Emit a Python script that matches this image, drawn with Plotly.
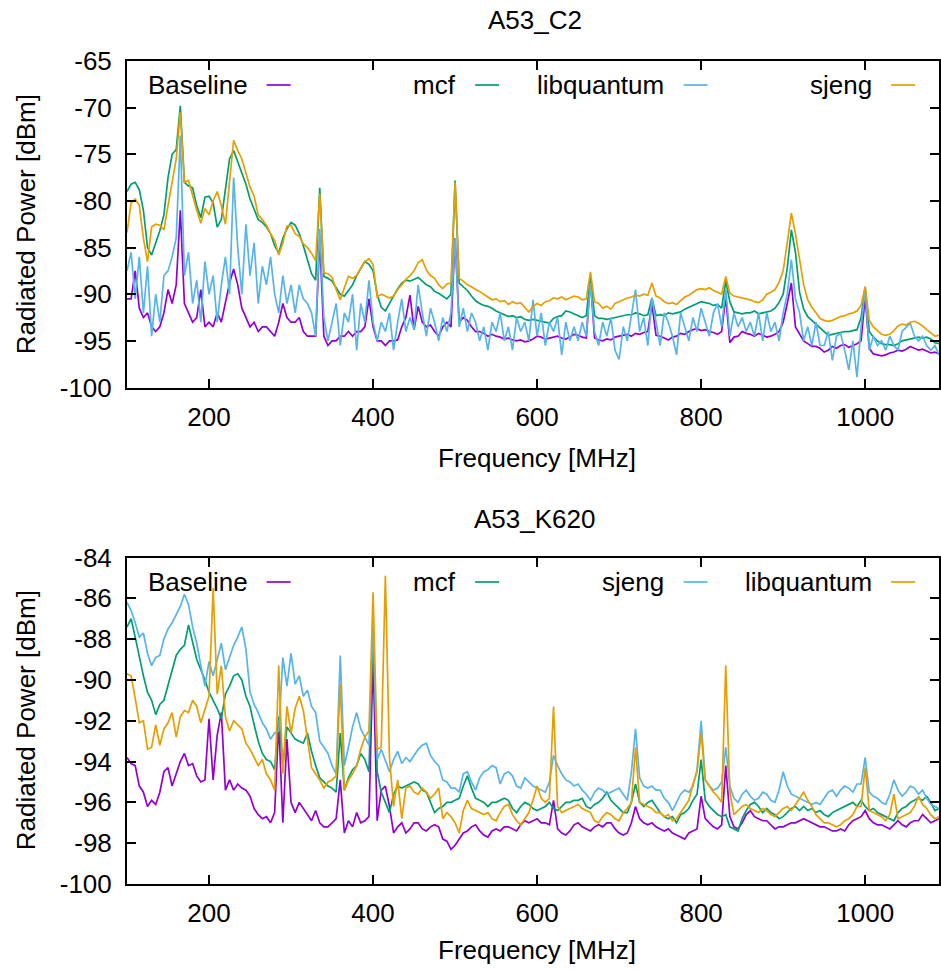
import plotly.graph_objects as go

# Frequency sweep (MHz), 5 MHz steps
freq = list(range(100, 1095, 5))

# ---------------- A53_C2 (top) ----------------
c2_baseline = [
    -90.5, -90.5, -87.5, -91.5, -92.5, -92.0, -93.5, -94.0, -93.5, -92.0,
    -89.5, -91.0, -89.0, -81.0, -91.0, -92.0, -93.0, -92.5, -89.5, -93.5,
    -93.0, -93.5, -92.0, -93.0, -91.0, -88.8, -87.3, -89.0, -91.5, -92.5,
    -93.5, -93.0, -94.0, -93.5, -93.5, -94.0, -94.5, -93.0, -91.0, -92.5,
    -93.0, -93.0, -92.5, -94.0, -94.5, -94.5, -94.5, -84.0, -94.5, -95.5,
    -95.0, -95.0, -94.5, -94.5, -94.0, -94.5, -94.0, -94.0, -93.5, -90.5,
    -93.5, -95.0, -95.0, -95.5, -95.0, -95.0, -94.9, -93.5, -92.5, -90.1,
    -93.8, -91.3, -93.0, -93.5, -93.3, -94.0, -94.5, -93.5, -93.0, -93.5,
    -84.0, -93.0, -92.5, -92.8, -93.5, -94.0, -94.0, -94.2, -94.5, -94.3,
    -94.5, -94.6, -94.8, -94.7, -94.9, -95.0, -94.9, -95.1, -95.0, -94.8,
    -94.5, -94.6, -94.8, -94.7, -94.6, -94.5, -94.7, -94.8, -94.6, -94.3,
    -94.4, -94.6, -94.7, -88.3, -94.7, -94.9, -95.0, -94.8, -94.9, -94.6,
    -94.5, -94.4, -94.3, -94.5, -94.2, -94.3, -94.1, -94.0, -91.1, -94.4,
    -94.5, -94.7, -94.9, -94.6, -94.5, -94.2, -94.3, -94.0, -93.8, -93.7,
    -93.9, -93.8, -94.0, -94.1, -94.3, -94.0, -90.3, -95.2, -94.6, -94.5,
    -94.0, -94.2, -94.3, -94.5, -94.2, -94.4, -94.6, -94.5, -94.3, -94.0,
    -93.0, -91.0, -88.8, -93.5, -94.3, -95.0, -95.3, -95.6, -95.6, -95.8,
    -96.2, -96.0, -95.6, -95.8, -95.5, -95.4, -95.7, -95.5, -95.3, -95.0,
    -90.3, -95.8, -96.4, -96.5, -96.6, -96.5, -96.3, -96.2, -96.0, -96.1,
    -95.9, -95.6, -95.8, -96.0, -95.9, -96.1, -96.3, -96.2, -96.4,
]
c2_mcf = [
    -79.0, -78.2, -78.0, -78.8, -81.0, -85.0, -85.8, -84.5, -83.2, -81.5,
    -77.5, -75.0, -74.5, -69.8, -78.0, -78.4, -78.6, -80.5, -81.8, -79.6,
    -79.5, -80.2, -82.8, -82.0, -78.5, -75.5, -74.6, -75.8, -77.0, -78.2,
    -79.8, -81.0, -82.0, -82.3, -82.8, -83.5, -84.8, -85.6, -84.0, -83.0,
    -82.3, -82.6, -83.5, -84.8, -86.2, -87.8, -88.5, -78.6, -88.1, -88.3,
    -88.6, -89.3, -90.0, -90.2, -89.6, -89.0, -88.0, -87.2, -86.5, -86.8,
    -87.5, -90.0, -91.4, -91.8, -91.0, -90.1, -89.4, -88.8, -88.5, -88.6,
    -88.4, -88.2, -88.6, -89.0, -89.2, -89.7, -89.9, -90.2, -90.5, -90.0,
    -77.8, -88.8, -89.2, -89.6, -90.2, -90.7, -91.0, -91.2, -91.3, -91.5,
    -91.8, -92.0, -92.2, -92.4, -92.3, -92.5, -92.4, -92.7, -92.8, -92.7,
    -92.8, -92.9, -93.0, -93.1, -92.6, -92.4, -92.3, -91.8, -91.9, -92.1,
    -92.3, -92.5, -92.3, -88.0, -92.3, -92.6, -92.6, -92.7, -92.6, -92.5,
    -92.4, -92.3, -92.2, -92.2, -92.0, -92.1, -92.3, -92.2, -90.4, -92.3,
    -92.2, -92.3, -92.0, -92.1, -92.0, -91.9, -91.6, -91.4, -91.2, -91.0,
    -90.8, -90.9, -91.0, -91.2, -91.1, -91.5, -88.6, -90.8, -91.9, -92.0,
    -92.1, -92.0, -92.0, -91.8, -92.1, -92.0, -91.9, -91.8, -91.5, -90.9,
    -90.0, -87.2, -83.1, -85.5, -89.8, -91.6, -92.4, -92.8, -93.3, -93.7,
    -94.1, -94.4, -94.3, -94.2, -94.1, -94.0, -94.0, -93.9, -93.8, -92.5,
    -89.2, -94.0, -94.6, -95.0, -95.3, -95.4, -95.4, -95.5, -95.3, -95.0,
    -94.9, -94.8, -94.7, -94.6, -94.7, -94.6, -94.8, -95.2, -95.3,
]
c2_libquantum = [
    -87.5, -85.5, -90.5, -86.0, -92.0, -87.0, -94.5, -90.0, -93.0, -88.0,
    -87.5, -86.0, -84.0, -73.0, -88.0, -85.5, -91.0, -88.5, -93.0, -86.5,
    -90.0, -88.0, -93.0, -89.0, -86.0, -90.0, -77.5, -85.0, -90.0, -82.5,
    -88.0, -84.5, -91.0, -87.0, -89.0, -86.0, -90.0, -92.0, -88.0, -91.0,
    -89.0, -92.0, -89.0, -90.5, -91.0, -92.0, -94.5, -83.0, -92.5, -95.0,
    -93.0, -91.0, -95.5, -92.0, -93.0, -90.0, -96.0, -91.0, -93.0, -88.5,
    -93.0, -95.0, -93.0, -94.0, -92.0, -96.0, -93.0, -90.5, -94.0, -92.5,
    -93.8, -89.0, -92.0, -94.5, -91.5, -93.0, -95.0, -92.5, -94.0, -92.0,
    -84.0, -93.5, -91.5, -94.0, -92.0, -93.0, -95.0, -93.5, -96.0, -93.0,
    -94.0, -92.0, -95.0, -93.5, -96.0, -92.5, -94.0, -93.0, -95.0, -90.6,
    -94.5, -92.0, -95.5, -93.0, -94.0, -92.5, -96.5, -93.0, -95.0, -93.5,
    -95.0, -93.0, -94.5, -88.8, -94.0, -95.5, -93.0, -94.5, -92.5, -96.0,
    -97.0, -93.5, -95.0, -92.0, -89.5, -94.0, -92.5, -95.5, -90.4, -93.0,
    -95.5, -92.0, -93.0, -94.5, -96.5, -92.0, -93.5, -95.0, -92.5, -94.0,
    -91.5, -93.0, -94.5, -92.0, -91.0, -93.5, -89.5, -94.5, -92.0, -93.5,
    -92.5, -94.0, -93.0, -94.5, -92.0, -95.0, -92.0, -94.0, -93.0, -95.0,
    -92.0, -90.0, -86.3, -90.5, -92.0, -95.0, -93.5, -95.5, -93.0, -95.5,
    -95.5, -94.0, -97.1, -94.5, -94.2, -96.0, -98.1, -95.0, -98.9, -93.5,
    -89.5, -96.0, -94.5, -95.5, -95.0, -96.0, -94.5, -95.5, -96.0, -94.0,
    -93.5, -93.1, -94.5, -95.0, -94.5, -95.5, -96.0, -95.5, -96.5,
]
c2_sjeng = [
    -83.4, -80.2, -79.8, -80.5, -84.0, -86.5, -82.8, -82.5, -82.6, -83.1,
    -80.5, -78.0, -75.5, -70.5, -78.0, -77.8, -79.5, -81.0, -82.4, -80.8,
    -81.5, -80.0, -79.0, -80.5, -82.5, -78.0, -73.5, -74.6, -75.5, -77.0,
    -78.5, -79.5, -81.5, -82.0, -82.6, -83.5, -84.2, -85.8, -84.5, -82.7,
    -82.6, -83.5, -83.8, -84.6, -85.0, -85.6, -86.4, -79.2, -87.7, -87.8,
    -88.2, -89.5, -90.6, -89.3, -88.1, -88.3, -88.0, -87.2, -86.5, -86.2,
    -86.8, -90.3, -90.0, -90.2, -90.4, -90.2, -89.5, -89.0, -88.4, -88.0,
    -87.5, -86.6, -86.3, -87.4, -88.0, -88.3, -89.0, -89.4, -88.9, -88.8,
    -78.0, -88.3, -88.6, -89.0, -89.2, -89.5, -89.7, -90.0, -90.3, -90.6,
    -90.5, -90.8, -90.7, -91.1, -90.8, -91.0, -90.9, -91.4, -91.9, -91.3,
    -91.0, -91.2, -90.8, -90.7, -90.4, -90.5, -90.3, -90.6, -90.4, -90.2,
    -90.3, -90.6, -90.5, -87.6, -90.8, -91.0, -91.5, -91.3, -91.6, -91.0,
    -90.8, -90.6, -90.4, -90.3, -90.1, -90.2, -90.0, -90.1, -88.8, -90.2,
    -90.4, -90.8, -91.0, -90.9, -91.1, -90.7, -90.3, -90.1, -89.8, -89.5,
    -89.4, -89.5, -89.3, -89.6, -89.8, -90.0, -88.1, -89.9, -90.2, -90.3,
    -90.4, -90.5, -90.6, -90.8, -90.9, -90.6, -90.0, -89.8, -89.5, -88.7,
    -87.5, -84.5, -81.3, -83.5, -86.5, -89.0, -90.6, -91.4, -92.0, -92.6,
    -92.8, -92.9, -92.8, -92.6, -92.4, -92.3, -92.1, -92.0, -91.8, -91.2,
    -89.2, -92.8, -93.5, -93.9, -94.3, -94.4, -94.3, -93.9, -93.4, -93.2,
    -93.3, -93.0, -92.9, -93.1, -93.4, -93.8, -94.2, -94.5, -94.4,
]

# ---------------- A53_K620 (bottom) ----------------
k620_baseline = [
    -93.8, -94.1, -94.2, -95.2, -95.5, -96.2, -95.9, -96.1, -95.5, -94.5,
    -94.3, -95.2, -94.6, -94.0, -93.6, -94.2, -94.1, -94.7, -95.0, -94.9,
    -91.9, -94.9, -92.7, -91.6, -95.4, -94.9, -95.4, -95.1, -95.3, -95.4,
    -95.7, -96.3, -96.6, -96.8, -96.7, -97.0, -96.5, -92.1, -97.0, -92.9,
    -96.0, -96.5, -96.0, -96.3, -96.6, -96.9, -96.4, -97.0, -97.2, -97.2,
    -97.0, -96.8, -94.9, -97.5, -96.9, -97.2, -96.5, -97.0, -96.9, -96.7,
    -88.9, -96.9, -95.4, -95.2, -96.2, -97.5, -97.2, -97.0, -97.5, -97.3,
    -97.0, -97.0, -97.3, -97.4, -97.2, -97.1, -97.2, -97.8, -97.9, -98.3,
    -98.1, -97.8, -97.5, -97.4, -97.2, -97.1, -97.4, -97.6, -97.7, -97.4,
    -97.3, -97.4, -97.2, -97.2, -97.3, -97.4, -97.1, -96.9, -97.0, -96.9,
    -96.8, -97.0, -97.0, -97.1, -95.9, -97.3, -97.5, -97.6, -97.4, -97.1,
    -97.0, -97.2, -97.3, -97.4, -97.2, -97.1, -97.2, -97.0, -97.0, -97.3,
    -97.5, -97.6, -97.5, -97.0, -96.2, -96.8, -97.0, -97.1, -97.0, -97.2,
    -97.3, -97.4, -97.3, -97.5, -97.6, -97.7, -97.8, -97.5, -97.4, -97.3,
    -95.7, -96.8, -97.0, -97.2, -97.3, -97.1, -94.2, -96.7, -97.2, -97.3,
    -97.0, -96.6, -96.4, -96.7, -96.8, -96.9, -96.9, -97.1, -97.3, -97.2,
    -97.2, -97.1, -97.0, -97.0, -96.9, -96.8, -96.9, -97.0, -97.1, -97.2,
    -97.2, -97.3, -97.4, -97.4, -97.3, -97.4, -97.1, -96.9, -96.8, -96.7,
    -96.4, -96.8, -97.0, -97.1, -97.1, -97.2, -97.3, -97.1, -96.9, -97.1,
    -97.2, -97.0, -96.9, -96.9, -96.6, -96.8, -97.0, -96.9, -96.8,
]
k620_mcf = [
    -87.4, -87.0, -87.9, -88.9, -89.8, -90.6, -91.0, -91.7, -91.2, -91.0,
    -90.3, -89.6, -88.8, -88.5, -88.3, -87.3, -88.1, -89.0, -89.5, -90.0,
    -90.6, -91.0, -91.4, -91.9, -90.7, -90.3, -89.8, -89.7, -90.0, -90.8,
    -91.3, -92.2, -93.0, -93.6, -93.9, -94.0, -94.4, -91.8, -94.2, -92.3,
    -92.6, -92.9, -93.0, -93.1, -92.6, -93.5, -94.2, -94.8, -95.0, -95.2,
    -95.3, -95.5, -92.6, -95.4, -94.8, -94.4, -94.2, -93.6, -93.9, -94.5,
    -87.4, -94.5, -95.5, -96.0, -96.5, -95.6, -95.2, -95.3, -95.2, -95.1,
    -95.0, -95.1, -95.4, -95.5, -96.0, -96.5, -96.3, -96.2, -96.0, -96.0,
    -95.9, -95.8, -95.2, -94.7, -95.3, -95.8, -95.9, -96.0, -96.2, -96.0,
    -96.0, -95.9, -95.8, -95.9, -96.3, -96.5, -96.2, -96.0, -96.1, -96.3,
    -96.4, -96.3, -96.2, -96.0, -96.3, -96.4, -96.2, -96.0, -96.0, -95.9,
    -95.9, -95.8, -96.2, -96.3, -96.1, -96.0, -95.8, -95.5, -95.9, -96.1,
    -96.3, -96.5, -96.5, -96.0, -95.1, -96.0, -96.2, -96.0, -95.9, -96.2,
    -96.5, -96.7, -96.8, -96.7, -97.0, -96.6, -96.5, -96.3, -95.9, -95.6,
    -93.9, -95.9, -96.2, -96.4, -96.6, -96.7, -96.6, -97.2, -97.3, -97.4,
    -96.8, -96.4, -96.1, -96.0, -96.2, -96.5, -96.3, -96.5, -96.6, -96.8,
    -96.7, -96.5, -96.3, -96.2, -96.4, -96.2, -96.4, -96.3, -96.5, -96.4,
    -96.6, -96.7, -96.5, -96.4, -96.3, -96.2, -96.1, -96.0, -96.2, -95.9,
    -96.2, -96.4, -96.3, -96.5, -96.6, -96.7, -96.8, -96.9, -96.5, -96.3,
    -96.2, -96.0, -95.9, -95.8, -95.9, -95.7, -96.0, -96.4, -96.3,
]
k620_sjeng = [
    -86.2, -86.6, -87.2, -87.9, -87.7, -88.7, -89.3, -88.9, -88.8, -88.0,
    -87.5, -87.2, -86.8, -86.4, -85.8, -86.3, -87.4, -88.2, -89.3, -90.3,
    -89.1, -89.8, -89.0, -88.2, -89.5, -88.9, -88.3, -87.9, -87.4, -88.5,
    -90.6, -91.2, -91.6, -92.1, -92.4, -92.9, -92.6, -92.5, -88.9, -90.3,
    -88.7, -90.2, -89.8, -90.8, -90.5, -91.3, -91.6, -93.0, -93.3, -93.6,
    -94.2, -94.6, -88.8, -94.2, -93.3, -92.3, -91.6, -92.4, -92.8, -93.2,
    -87.2, -93.9, -93.4, -94.0, -94.5, -93.9, -93.5, -94.1, -93.8, -94.0,
    -93.7, -93.4, -93.2, -93.1, -93.7, -94.0, -94.2, -94.9, -95.0, -95.3,
    -95.3, -95.5, -94.6, -94.5, -95.0, -95.4, -94.8, -94.5, -94.4, -94.2,
    -94.3, -95.1, -94.6, -94.5, -94.7, -95.2, -95.3, -94.8, -95.0, -95.2,
    -95.3, -95.4, -95.5, -95.0, -93.7, -94.2, -94.6, -94.9, -95.0, -95.2,
    -95.1, -95.4, -95.6, -95.9, -95.5, -95.3, -95.4, -95.6, -95.5, -95.4,
    -95.3, -95.6, -95.9, -94.5, -92.4, -94.8, -95.2, -95.3, -95.2, -95.4,
    -95.4, -95.8, -96.0, -96.4, -96.0, -95.6, -95.4, -95.5, -95.2, -94.4,
    -92.0, -94.9, -95.2, -95.4, -95.3, -95.0, -93.3, -95.2, -95.8, -96.0,
    -95.6, -95.4, -95.7, -95.9, -95.8, -95.5, -95.6, -95.9, -96.0, -95.4,
    -94.5, -95.2, -95.6, -95.7, -95.8, -95.9, -96.0, -96.1, -96.0, -96.1,
    -95.8, -95.5, -95.4, -95.7, -95.4, -95.2, -95.3, -95.5, -95.1, -95.1,
    -93.8, -95.5, -95.7, -95.8, -96.0, -96.1, -95.6, -94.9, -95.4, -95.7,
    -95.5, -95.2, -95.3, -95.6, -95.4, -95.8, -96.1, -96.2, -96.3,
]
k620_libquantum = [
    -89.7, -89.8, -90.9, -92.1, -92.0, -93.4, -93.3, -92.2, -93.2, -92.4,
    -92.1, -91.6, -92.8, -91.8, -91.5, -91.6, -91.0, -91.3, -92.1, -91.5,
    -90.8, -85.5, -90.7, -89.3, -91.8, -92.5, -92.0, -92.2, -92.4, -93.1,
    -93.4, -93.8, -94.2, -93.9, -94.6, -94.9, -95.4, -89.3, -94.6, -91.3,
    -92.6, -91.4, -90.8, -91.5, -92.8, -94.3, -94.6, -94.9, -95.3, -95.0,
    -94.9, -94.7, -90.2, -95.4, -94.9, -94.6, -94.2, -93.4, -92.8, -92.5,
    -85.7, -93.4, -93.3, -84.9, -93.8, -96.2, -94.9, -96.8, -95.3, -95.2,
    -95.5, -95.6, -95.3, -95.5, -95.8, -95.6, -95.3, -96.8, -96.5, -96.7,
    -97.0, -97.5, -96.4, -95.9, -96.3, -96.4, -96.5, -96.6, -96.5, -96.8,
    -96.9, -96.5, -96.2, -96.1, -96.6, -96.9, -97.1, -96.8, -96.5, -95.9,
    -95.2, -95.8, -96.0, -95.8, -91.3, -96.2, -96.5, -96.4, -96.3, -96.2,
    -96.1, -96.3, -96.4, -96.5, -96.9, -97.0, -96.7, -96.5, -96.6, -96.8,
    -96.9, -96.5, -96.3, -96.0, -93.3, -96.0, -96.1, -96.2, -96.3, -96.5,
    -96.5, -96.7, -96.6, -96.9, -96.8, -96.5, -96.2, -95.9, -95.1, -94.5,
    -92.6, -94.9, -95.2, -95.5, -95.7, -96.0, -89.3, -95.5, -96.6, -96.4,
    -96.2, -96.1, -96.3, -96.4, -96.5, -96.3, -96.4, -96.6, -96.7, -96.5,
    -96.3, -96.2, -96.4, -96.1, -95.8, -95.5, -95.9, -96.2, -96.6, -96.8,
    -97.0, -97.0, -97.1, -97.2, -97.1, -96.9, -96.8, -96.6, -96.2, -96.2,
    -94.3, -96.4, -96.5, -96.6, -96.7, -96.9, -96.6, -95.6, -96.8, -96.7,
    -96.6, -96.5, -96.2, -95.7, -96.1, -96.3, -96.6, -96.8, -96.7,
]

# Axis ticks
x_ticks = [200, 400, 600, 800, 1000]
y_ticks_top = [-100, -95, -90, -85, -80, -75, -70, -65]
y_ticks_bottom = [-100, -98, -96, -94, -92, -90, -88, -86, -84]

# Series definitions (legend order as in the reference)
top_series = [("Baseline", c2_baseline, "#9400d3"),
              ("mcf", c2_mcf, "#009e73"),
              ("libquantum", c2_libquantum, "#56b4e9"),
              ("sjeng", c2_sjeng, "#e69f00")]
bottom_series = [("Baseline", k620_baseline, "#9400d3"),
                 ("mcf", k620_mcf, "#009e73"),
                 ("sjeng", k620_sjeng, "#56b4e9"),
                 ("libquantum", k620_libquantum, "#e69f00")]

FONT = "Liberation Sans, Arial, Helvetica, sans-serif"
FS = 26

fig = go.Figure()
for name, vals, col in top_series:
    fig.add_trace(go.Scatter(x=freq, y=vals, mode="lines", name=name,
                             line=dict(color=col, width=1.7),
                             xaxis="x", yaxis="y", showlegend=False))
for name, vals, col in bottom_series:
    fig.add_trace(go.Scatter(x=freq, y=vals, mode="lines", name=name,
                             line=dict(color=col, width=1.7),
                             xaxis="x2", yaxis="y2", showlegend=False))

W, H = 941, 971
ML, MR, MT, MB = 127, 0, 61, 87
PW = W - ML - MR
PH = H - MT - MB


def px_x(p):
    return (p - ML) / PW


def px_y(p):
    return 1 - (p - MT) / PH


top_dom = [px_y(387.5), 1.0]
bot_dom = [0.0, px_y(557.5)]

axis_common = dict(showline=True, linecolor="black", linewidth=2, mirror="ticks",
                   ticks="inside", ticklen=9, tickwidth=1.5, tickcolor="black",
                   showgrid=False, zeroline=False,
                   tickfont=dict(family=FONT, size=FS, color="black"))

fig.update_layout(
    width=W, height=H,
    margin=dict(l=ML, r=MR, t=MT, b=MB),
    plot_bgcolor="white", paper_bgcolor="white",
    font=dict(family=FONT, size=FS, color="black"),
    xaxis=dict(axis_common, domain=[0, 1], range=[100, 1090], anchor="y",
               tickvals=x_ticks, ticktext=[str(v) for v in x_ticks], ticklabelstandoff=5),
    yaxis=dict(axis_common, domain=top_dom, range=[-100, -65], anchor="x",
               tickvals=y_ticks_top, ticktext=[str(v) for v in y_ticks_top], ticklabelstandoff=8),
    xaxis2=dict(axis_common, domain=[0, 1], range=[100, 1090], anchor="y2",
                tickvals=x_ticks, ticktext=[str(v) for v in x_ticks], ticklabelstandoff=5),
    yaxis2=dict(axis_common, domain=bot_dom, range=[-100, -84], anchor="x2",
                tickvals=y_ticks_bottom, ticktext=[str(v) for v in y_ticks_bottom], ticklabelstandoff=8),
)

annotations = []
shapes = []

# Titles
annotations.append(dict(text="A53_C2", x=px_x(536), y=px_y(20), xref="paper", yref="paper",
                        showarrow=False, xanchor="center", yanchor="middle",
                        font=dict(family=FONT, size=FS)))
annotations.append(dict(text="A53_K620", x=px_x(536), y=px_y(519), xref="paper", yref="paper",
                        showarrow=False, xanchor="center", yanchor="middle",
                        font=dict(family=FONT, size=FS)))
# Axis titles
for yy in (458, 950):
    annotations.append(dict(text="Frequency [MHz]", x=px_x(538), y=px_y(yy), xref="paper", yref="paper",
                            showarrow=False, xanchor="center", yanchor="middle",
                            font=dict(family=FONT, size=FS)))
for yy in (224, 720):
    annotations.append(dict(text="Radiated Power [dBm]", x=px_x(26), y=px_y(yy), xref="paper", yref="paper",
                            showarrow=False, xanchor="center", yanchor="middle", textangle=-90,
                            font=dict(family=FONT, size=FS)))

# Gnuplot-style key (text followed by line sample)
text_right = [250, 459, 667, 876]
line_left = [267, 476, 685, 893]
for series, ky in ((top_series, 85), (bottom_series, 582)):
    for (name, _, col), tr, ll in zip(series, text_right, line_left):
        annotations.append(dict(text=name, x=px_x(tr), y=px_y(ky), xref="paper", yref="paper",
                                showarrow=False, xanchor="right", yanchor="middle",
                                font=dict(family=FONT, size=FS)))
        shapes.append(dict(type="line", xref="paper", yref="paper",
                           x0=px_x(ll), x1=px_x(ll + 24), y0=px_y(ky), y1=px_y(ky),
                           line=dict(color=col, width=1.7)))

fig.update_layout(annotations=annotations, shapes=shapes)

fig.write_html("out.html")
